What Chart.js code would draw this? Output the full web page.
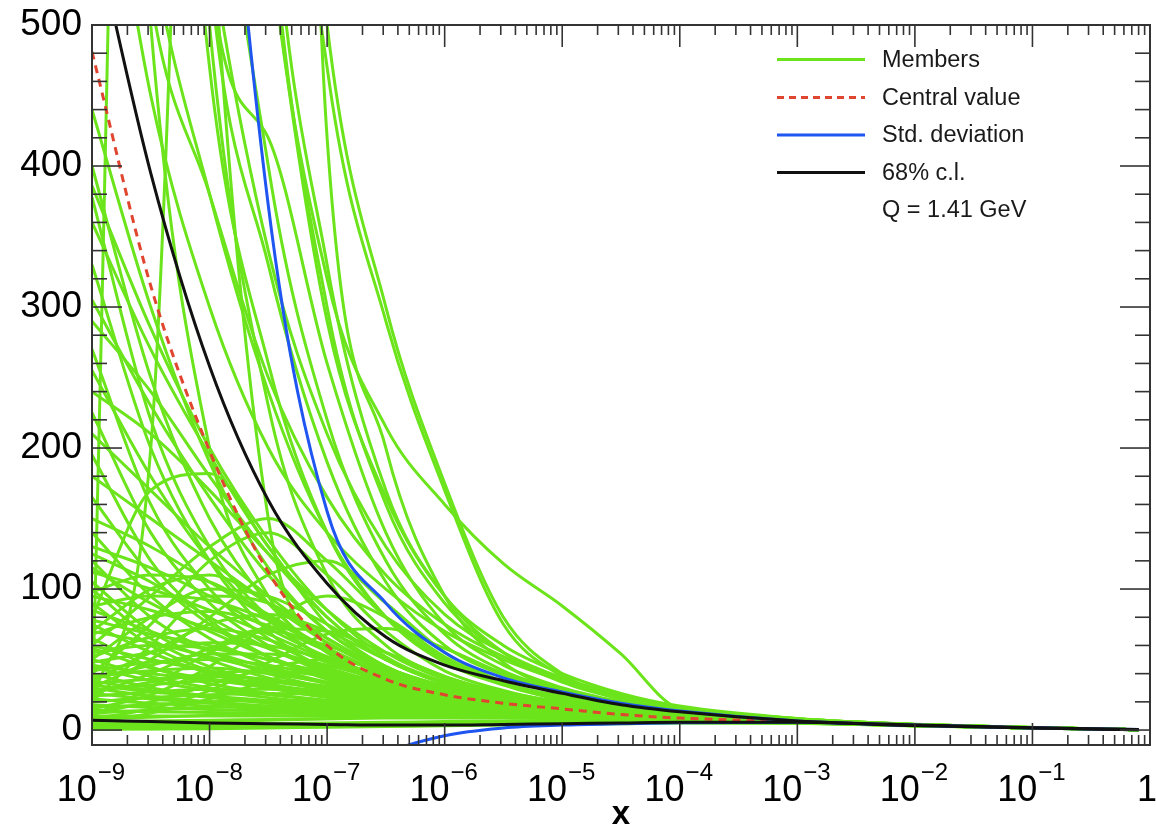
<!DOCTYPE html>
<html><head><meta charset="utf-8">
<script src="https://cdn.jsdelivr.net/npm/chart.js@4.4.1/dist/chart.umd.min.js"></script>
<style>html,body{margin:0;padding:0;background:#fff;overflow:hidden}</style>
</head><body>
<canvas id="c" width="1156" height="830"></canvas>
<script>
// ---------- DATA ----------
const xGrid = [1e-9, 3.16e-9, 1e-8, 3.16e-8, 1e-7, 3.16e-7, 1e-6, 3.16e-6, 1e-5, 3.16e-5, 1e-4, 1e-3, 1e-2, 1e-1, 0.8];

const centralValue = [481, 315, 198, 112, 60, 36, 25, 19, 15, 11, 8.5, 6, 3.5, 1.6, 0.3];
const stdUpper = [2400, 1500, 820, 372, 155, 90, 55, 37, 27, 19, 13.5, 6.5, 3.6, 1.7, 0.35];
const stdLower = [null, null, null, null, -45, -17, -4, 1.5, 3.5, 4.5, 5.2, 5.5, 3.2, 1.4, 0.25];
const cl68Upper = [575, 395, 258, 163, 104, 66, 46, 35, 26, 18, 13, 6.5, 3.6, 1.7, 0.35];
const cl68Lower = [7, 6, 5, 4.5, 4, 3.5, 3.5, 4, 4.5, 5, 5.5, 5.5, 3.2, 1.4, 0.25];

// replicas leaving through the top of the frame
const steepMembers = [
  [1200, 500, 200, 95, 55, 35, 25, 19, 15, 11, 8.5, 6, 3.4, 1.6, 0.3],
  [900, 560, 380, 240, 140, 80, 48, 32, 22, 15, 10, 6.5, 3.6, 1.7, 0.3],
  [2000, 1000, 470, 260, 140, 80, 50, 33, 24, 17, 11, 7, 3.8, 1.7, 0.3],
  [1800, 1100, 500, 230, 110, 60, 38, 27, 20, 14, 10, 6.5, 3.6, 1.6, 0.3],
  [2200, 1200, 540, 330, 190, 105, 60, 39, 27, 18, 12, 7, 3.8, 1.7, 0.3],
  [2600, 1500, 540, 420, 260, 140, 75, 46, 30, 20, 13, 7.2, 3.9, 1.7, 0.3],
  [3000, 1600, 750, 400, 220, 120, 68, 42, 28, 19, 12.5, 7, 3.8, 1.7, 0.3],
  [4000, 2500, 1300, 600, 300, 160, 90, 55, 35, 22, 14, 7.5, 4, 1.8, 0.3],
  [4000, 2500, 1200, 580, 320, 215, 160, 118, 88, 54, 15, 7.5, 4, 1.8, 0.3],
  [5000, 3000, 1500, 640, 330, 170, 95, 55, 34, 22, 14, 7.5, 4, 1.8, 0.3],
  [6000, 4000, 2200, 900, 470, 290, 170, 75, 38, 22, 14, 7.5, 4, 1.8, 0.3],
  [6000, 4000, 2300, 1000, 500, 300, 175, 80, 40, 22, 14, 7.5, 4, 1.8, 0.3],
  [10, 1500, 600, 150, 60, 35, 25, 19, 14, 11, 8.5, 6, 3.4, 1.6, 0.3],
  [20, 200, 1200, 1400, 420, 200, 95, 48, 28, 18, 12, 7, 3.8, 1.7, 0.3],
  [700, 450, 300, 200, 140, 100, 70, 50, 35, 24, 16, 8, 4, 1.8, 0.3],
  [900, 520, 380, 250, 165, 110, 75, 52, 36, 24, 16, 8, 4, 1.8, 0.3],
  [1500, 900, 560, 340, 210, 130, 82, 55, 37, 25, 16, 8, 4, 1.8, 0.3],
  [2500, 1500, 900, 560, 290, 165, 95, 60, 40, 26, 17, 8.2, 4.1, 1.8, 0.3]
];

// replicas starting high on the left edge
const leftMembers = [
  [440, 300, 190, 115, 70, 45, 30, 22, 16, 12, 9, 6, 3.4, 1.6, 0.3],
  [400, 250, 150, 90, 55, 36, 26, 19, 14, 11, 8.5, 6, 3.4, 1.6, 0.3],
  [386, 285, 200, 135, 85, 52, 34, 24, 17, 12, 9, 6, 3.4, 1.6, 0.3],
  [378, 220, 130, 80, 50, 34, 25, 19, 14, 11, 8.5, 6, 3.4, 1.6, 0.3],
  [305, 230, 165, 110, 70, 45, 30, 22, 16, 12, 9, 6, 3.4, 1.6, 0.3],
  [255, 180, 120, 78, 50, 34, 25, 19, 14, 11, 8.5, 6, 3.4, 1.6, 0.3],
  [360, 270, 195, 130, 80, 50, 33, 24, 17, 12, 9, 6, 3.4, 1.6, 0.3],
  [330, 200, 120, 70, 42, 28, 21, 16, 13, 10, 8, 5.8, 3.3, 1.5, 0.3]
];

// replicas starting between 100 and 300
const midMembers = [
  [290, 240, 180, 125, 80, 50, 33, 24, 17, 12, 9, 6, 3.4, 1.6, 0.3],
  [270, 160, 100, 65, 44, 31, 23, 17, 13, 10, 8, 5.8, 3.3, 1.5, 0.3],
  [240, 210, 170, 125, 85, 55, 36, 25, 18, 13, 9.5, 6.2, 3.5, 1.6, 0.3],
  [225, 140, 90, 60, 40, 29, 22, 17, 13, 10, 8, 5.8, 3.3, 1.5, 0.3],
  [210, 170, 130, 95, 65, 44, 31, 23, 17, 12, 9, 6, 3.4, 1.6, 0.3],
  [195, 120, 78, 52, 36, 26, 20, 15, 12, 9.5, 7.5, 5.6, 3.2, 1.5, 0.3],
  [180, 150, 120, 90, 62, 42, 30, 22, 16, 12, 9, 6, 3.4, 1.6, 0.3],
  [165, 110, 75, 52, 37, 27, 20, 15, 12, 9.5, 7.5, 5.6, 3.2, 1.5, 0.3],
  [150, 130, 105, 80, 58, 40, 28, 21, 15, 11, 8.5, 6, 3.4, 1.6, 0.3],
  [140, 95, 65, 46, 33, 25, 19, 15, 12, 9.5, 7.5, 5.6, 3.2, 1.5, 0.3],
  [130, 115, 95, 72, 52, 37, 27, 20, 15, 11, 8.5, 6, 3.4, 1.6, 0.3],
  [120, 80, 56, 40, 30, 23, 18, 14, 11, 9, 7.5, 5.6, 3.2, 1.5, 0.3],
  [112, 100, 85, 68, 50, 36, 26, 20, 15, 11, 8.5, 6, 3.4, 1.6, 0.3],
  [105, 70, 50, 37, 28, 22, 17, 14, 11, 9, 7.5, 5.6, 3.2, 1.5, 0.3],
  [125, 105, 80, 58, 42, 31, 23, 17, 13, 10, 8, 5.8, 3.3, 1.5, 0.3],
  [115, 90, 70, 52, 38, 28, 21, 16, 12.5, 10, 8, 5.8, 3.3, 1.5, 0.3]
];

// replicas rising first, then falling
const risingMembers = [
  [80, 170, 182, 130, 75, 45, 30, 22, 16, 12, 9, 6, 3.4, 1.6, 0.3],
  [20, 60, 95, 90, 65, 42, 30, 22, 16, 12, 9, 6, 3.4, 1.6, 0.3],
  [40, 75, 120, 140, 110, 70, 42, 28, 19, 13, 9.5, 6.2, 3.5, 1.6, 0.3],
  [10, 30, 55, 70, 60, 44, 31, 23, 17, 12, 9, 6, 3.4, 1.6, 0.3],
  [60, 95, 130, 150, 120, 80, 50, 32, 21, 14, 10, 6.5, 3.6, 1.7, 0.3],
  [30, 50, 80, 110, 120, 90, 55, 34, 22, 15, 10, 6.5, 3.6, 1.7, 0.3],
  [15, 25, 45, 75, 95, 80, 52, 33, 22, 15, 10, 6.5, 3.6, 1.7, 0.3],
  [5, 12, 22, 35, 45, 40, 30, 22, 16, 12, 9, 6, 3.4, 1.6, 0.3],
  [12, 20, 32, 44, 50, 42, 31, 22, 16, 12, 9, 6, 3.4, 1.6, 0.3],
  [25, 40, 58, 72, 70, 55, 38, 26, 18, 13, 9.5, 6.2, 3.5, 1.6, 0.3],
  [35, 55, 75, 82, 70, 50, 34, 24, 17, 12, 9, 6, 3.4, 1.6, 0.3],
  [50, 80, 100, 95, 75, 50, 33, 23, 16, 12, 9, 6, 3.4, 1.6, 0.3],
  [70, 100, 110, 90, 62, 42, 29, 21, 15, 11, 8.5, 6, 3.4, 1.6, 0.3],
  [8, 15, 28, 48, 68, 72, 58, 40, 26, 17, 11, 6.5, 3.6, 1.7, 0.3],
  [88, 95, 92, 78, 58, 40, 28, 20, 15, 11, 8.5, 6, 3.4, 1.6, 0.3],
  [68, 80, 84, 74, 56, 39, 27, 20, 14.5, 11, 8.5, 6, 3.4, 1.6, 0.3],
  [52, 66, 72, 64, 48, 34, 25, 19, 14, 10.5, 8, 5.8, 3.3, 1.5, 0.3],
  [36, 46, 54, 54, 46, 35, 26, 19, 14, 10.5, 8, 5.8, 3.3, 1.5, 0.3],
  [27, 34, 40, 42, 38, 30, 23, 17.5, 13.5, 10.5, 8.5, 6, 3.4, 1.6, 0.3],
  [98, 110, 105, 82, 58, 40, 28, 20, 15, 11, 8.5, 6, 3.4, 1.6, 0.3]
];

// replicas in the dense low band
const bandMembers = [
  [60, 50, 42, 35, 29, 24, 20, 16, 13, 10.5, 8.5, 6, 3.4, 1.6, 0.3],
  [55, 60, 58, 50, 40, 31, 24, 18, 14, 11, 8.5, 6, 3.4, 1.6, 0.3],
  [50, 38, 30, 25, 21, 18, 15, 13, 11, 9, 7.5, 5.6, 3.2, 1.5, 0.3],
  [48, 55, 62, 60, 50, 38, 28, 21, 15, 11, 8.5, 6, 3.4, 1.6, 0.3],
  [45, 35, 28, 23, 19, 16, 14, 12, 10, 8.5, 7, 5.5, 3.2, 1.5, 0.3],
  [42, 48, 50, 46, 38, 30, 23, 18, 14, 11, 8.5, 6, 3.4, 1.6, 0.3],
  [40, 30, 24, 20, 17, 15, 13, 11.5, 10, 8.5, 7, 5.5, 3.2, 1.5, 0.3],
  [38, 42, 44, 40, 34, 27, 21, 17, 13, 10.5, 8.5, 6, 3.4, 1.6, 0.3],
  [35, 28, 23, 19, 16, 14, 12.5, 11, 9.5, 8, 7, 5.5, 3.2, 1.5, 0.3],
  [33, 36, 38, 36, 31, 25, 20, 16, 13, 10.5, 8.5, 6, 3.4, 1.6, 0.3],
  [30, 24, 20, 17, 15, 13, 12, 10.5, 9.5, 8, 7, 5.5, 3.2, 1.5, 0.3],
  [28, 32, 35, 34, 30, 25, 20, 16, 13, 10.5, 8.5, 6, 3.4, 1.6, 0.3],
  [26, 22, 19, 16.5, 14.5, 13, 12, 10.5, 9.5, 8, 7, 5.5, 3.2, 1.5, 0.3],
  [24, 27, 29, 29, 27, 23, 19, 15.5, 12.5, 10, 8.5, 6, 3.4, 1.6, 0.3],
  [22, 19, 17, 15, 13.5, 12.5, 11.5, 10.5, 9.5, 8, 7, 5.5, 3.2, 1.5, 0.3],
  [20, 23, 25, 26, 25, 22, 18, 15, 12.5, 10, 8.5, 6, 3.4, 1.6, 0.3],
  [18, 16, 14.5, 13.5, 12.5, 12, 11, 10, 9, 8, 7, 5.5, 3.2, 1.5, 0.3],
  [16, 18, 20, 21, 21, 19, 16.5, 14, 12, 10, 8.5, 6, 3.4, 1.6, 0.3],
  [14, 13, 12.5, 12, 11.5, 11, 10.5, 10, 9, 8, 7, 5.5, 3.2, 1.5, 0.3],
  [12, 14, 16, 17, 17.5, 17, 15, 13, 11.5, 9.5, 8, 6, 3.4, 1.6, 0.3],
  [10, 10, 10, 10, 10, 10, 9.5, 9, 8.5, 7.5, 6.5, 5.3, 3.1, 1.5, 0.3],
  [8, 9, 10.5, 12, 13, 13, 12.5, 11.5, 10.5, 9, 7.5, 5.8, 3.3, 1.5, 0.3],
  [6, 6.5, 7, 7.5, 8, 8.5, 8.5, 8.5, 8, 7.5, 6.5, 5.3, 3.1, 1.5, 0.3],
  [4, 5, 6, 7, 8, 9, 9.5, 9.5, 9, 8, 7, 5.5, 3.2, 1.5, 0.3],
  [3, 3.5, 4, 4.5, 5, 5.5, 6, 6.5, 6.8, 6.8, 6.5, 5.2, 3.1, 1.4, 0.3],
  [2, 2.5, 3, 3.5, 4, 4.5, 5, 5.5, 6, 6.2, 6, 5, 3, 1.4, 0.25],
  [0.5, 1, 1.5, 2, 2.5, 3, 3.5, 4, 4.5, 5, 5.2, 4.8, 3, 1.4, 0.25],
  [1, 0.8, 1, 1.5, 2, 2.5, 3, 3.5, 4, 4.5, 5, 4.8, 2.9, 1.4, 0.25],
  [65, 45, 33, 26, 21, 17.5, 15, 13, 11, 9, 7.5, 5.6, 3.2, 1.5, 0.3],
  [70, 62, 52, 42, 33, 26, 20, 16, 13, 10.5, 8.5, 6, 3.4, 1.6, 0.3],
  [75, 55, 40, 30, 23, 18.5, 15.5, 13, 11, 9, 7.5, 5.6, 3.2, 1.5, 0.3],
  [85, 70, 56, 44, 34, 26, 20, 16, 13, 10.5, 8.5, 6, 3.4, 1.6, 0.3],
  [90, 60, 42, 31, 24, 19, 16, 13.5, 11.5, 9.5, 7.5, 5.6, 3.2, 1.5, 0.3],
  [95, 85, 72, 58, 44, 33, 25, 19, 14.5, 11, 8.5, 6, 3.4, 1.6, 0.3],
  [100, 65, 45, 33, 25, 20, 16.5, 14, 12, 9.5, 7.5, 5.6, 3.2, 1.5, 0.3],
  [78, 68, 60, 50, 40, 30, 23, 17, 13, 10, 8, 5.8, 3.3, 1.5, 0.3],
  [58, 44, 36, 30, 25, 21, 17, 14, 11.5, 9.5, 7.5, 5.6, 3.2, 1.5, 0.3],
  [46, 40, 36, 32, 27, 22, 18, 15, 12, 9.5, 7.5, 5.6, 3.2, 1.5, 0.3],
  [32, 27, 24, 21, 18, 16, 14, 12, 10.5, 9, 7.5, 5.6, 3.2, 1.5, 0.3]
];

const yTickValues = [0, 100, 200, 300, 400, 500];
const xTickValues = [1e-9, 1e-8, 1e-7, 1e-6, 1e-5, 1e-4, 1e-3, 1e-2, 1e-1, 1];
const xTickExponents = ['\u22129', '\u22128', '\u22127', '\u22126', '\u22125', '\u22124', '\u22123', '\u22122', '\u22121', null];
const legendLabels = ['Members', 'Central value', 'Std. deviation', '68% c.l.'];
const legendNote = 'Q = 1.41 GeV';
const xTitle = 'x';

// ---------- STYLE ----------
const FONT = '"Liberation Sans", Arial, Helvetica, sans-serif';
const GREEN = '#6ce41c', RED = '#e0452f', BLUE = '#1f55f0', BLACK = '#111111';

const toPts = arr => xGrid.map((x, i) => ({x: x, y: arr[i]}));
const datasets = [];
function addSet(label, arr, color, width, order, dash) {
  datasets.push({
    label: label, data: toPts(arr), borderColor: color, borderWidth: width,
    borderDash: dash || [], pointRadius: 0, fill: false, order: order,
    cubicInterpolationMode: 'monotone', spanGaps: false
  });
}
addSet('68% c.l.', cl68Upper, BLACK, 3, 0);
addSet('68% c.l. (lower)', cl68Lower, BLACK, 3, 0);
addSet('Std. deviation', stdUpper, BLUE, 3, 1);
addSet('Std. deviation (lower)', stdLower, BLUE, 3, 1);
addSet('Central value', centralValue, RED, 3, 2, [8, 6]);
[steepMembers, leftMembers, midMembers, risingMembers, bandMembers].forEach(group =>
  group.forEach(m => addSet('Members', m, GREEN, 3, 10)));

const decor = {
  id: 'decor',
  afterDatasetsDraw(chart) {
    const {ctx, chartArea: a, scales: {x, y}} = chart;
    ctx.save();
    const seg = (x1, y1, x2, y2) => { ctx.beginPath(); ctx.moveTo(x1, y1); ctx.lineTo(x2, y2); ctx.stroke(); };
    ctx.strokeStyle = '#333'; ctx.lineWidth = 1.6;
    for (let v = 0; v <= 500; v += 20) {
      const py = y.getPixelForValue(v);
      const len = (v % 100 === 0) ? 30 : 15;
      seg(a.left, py, a.left + len, py);
      seg(a.right, py, a.right - len, py);
    }
    for (let d = -9; d < 0; d++) {
      for (let k = 1; k <= 9; k++) {
        const v = k * Math.pow(10, d);
        const px = x.getPixelForValue(v);
        const len = (k === 1) ? 22 : 10;
        seg(px, a.bottom, px, a.bottom - len);
        seg(px, a.top, px, a.top + len);
      }
    }
    ctx.lineWidth = 2;
    ctx.strokeRect(a.left, a.top, a.right - a.left, a.bottom - a.top);

    // x tick labels with superscript exponents
    ctx.fillStyle = '#000';
    ctx.textBaseline = 'alphabetic';
    ctx.textAlign = 'left';
    xTickValues.forEach((v, i) => {
      const px = x.getPixelForValue(v);
      const exp = xTickExponents[i];
      ctx.font = '36px ' + FONT;
      if (exp === null) {
        const w = ctx.measureText('1').width;
        ctx.fillText('1', px - w / 2 - 3, 801);
        return;
      }
      const w1 = ctx.measureText('10').width;
      ctx.font = '24px ' + FONT;
      const w2 = ctx.measureText(exp).width;
      const start = px - (w1 + w2 + 1) / 2 - 1;
      ctx.font = '36px ' + FONT;
      ctx.fillText('10', start, 801);
      ctx.font = '24px ' + FONT;
      ctx.fillText(exp, start + w1 + 1, 780);
    });

    // legend
    const lx1 = 777, lx2 = 865, tx = 882;
    const rows = [59.5, 97.5, 135, 172.5];
    const styles = [[GREEN, []], [RED, [7, 5]], [BLUE, []], [BLACK, []]];
    ctx.lineWidth = 3;
    rows.forEach((ry, i) => {
      ctx.strokeStyle = styles[i][0];
      ctx.setLineDash(styles[i][1]);
      seg(lx1, ry, lx2, ry);
    });
    ctx.setLineDash([]);
    ctx.font = '23.5px ' + FONT;
    ctx.fillStyle = '#1a1a1a';
    ctx.textBaseline = 'middle';
    legendLabels.forEach((t, i) => ctx.fillText(t, tx, rows[i] + 1));
    ctx.fillText(legendNote, tx, 211);
    ctx.restore();
  }
};

new Chart(document.getElementById('c'), {
  type: 'line',
  data: {datasets: datasets},
  plugins: [decor],
  options: {
    responsive: false, animation: false, devicePixelRatio: 1,
    layout: {padding: {top: 25, right: 6, left: 0, bottom: 0}},
    plugins: {legend: {display: false}, tooltip: {enabled: false}},
    scales: {
      x: {
        type: 'logarithmic', min: 1e-9, max: 1,
        grid: {display: false, drawTicks: false}, border: {display: false},
        ticks: {display: false},
        title: {display: true, text: xTitle, color: '#000', padding: 0,
                font: {family: FONT, size: 33, weight: 'bold', lineHeight: 0.9}},
        afterFit: s => { s.height = 85; s.paddingLeft = 0; s.paddingRight = 0; }
      },
      y: {
        type: 'linear', min: -10.6, max: 500,
        grid: {display: false, drawTicks: false}, border: {display: false},
        afterBuildTicks: s => { s.ticks = yTickValues.map(v => ({value: v})); },
        ticks: {color: '#000', padding: 10, font: {family: FONT, size: 37}},
        afterFit: s => { s.width = 92; s.paddingTop = 0; s.paddingBottom = 0; }
      }
    }
  }
});
</script>
</body></html>
